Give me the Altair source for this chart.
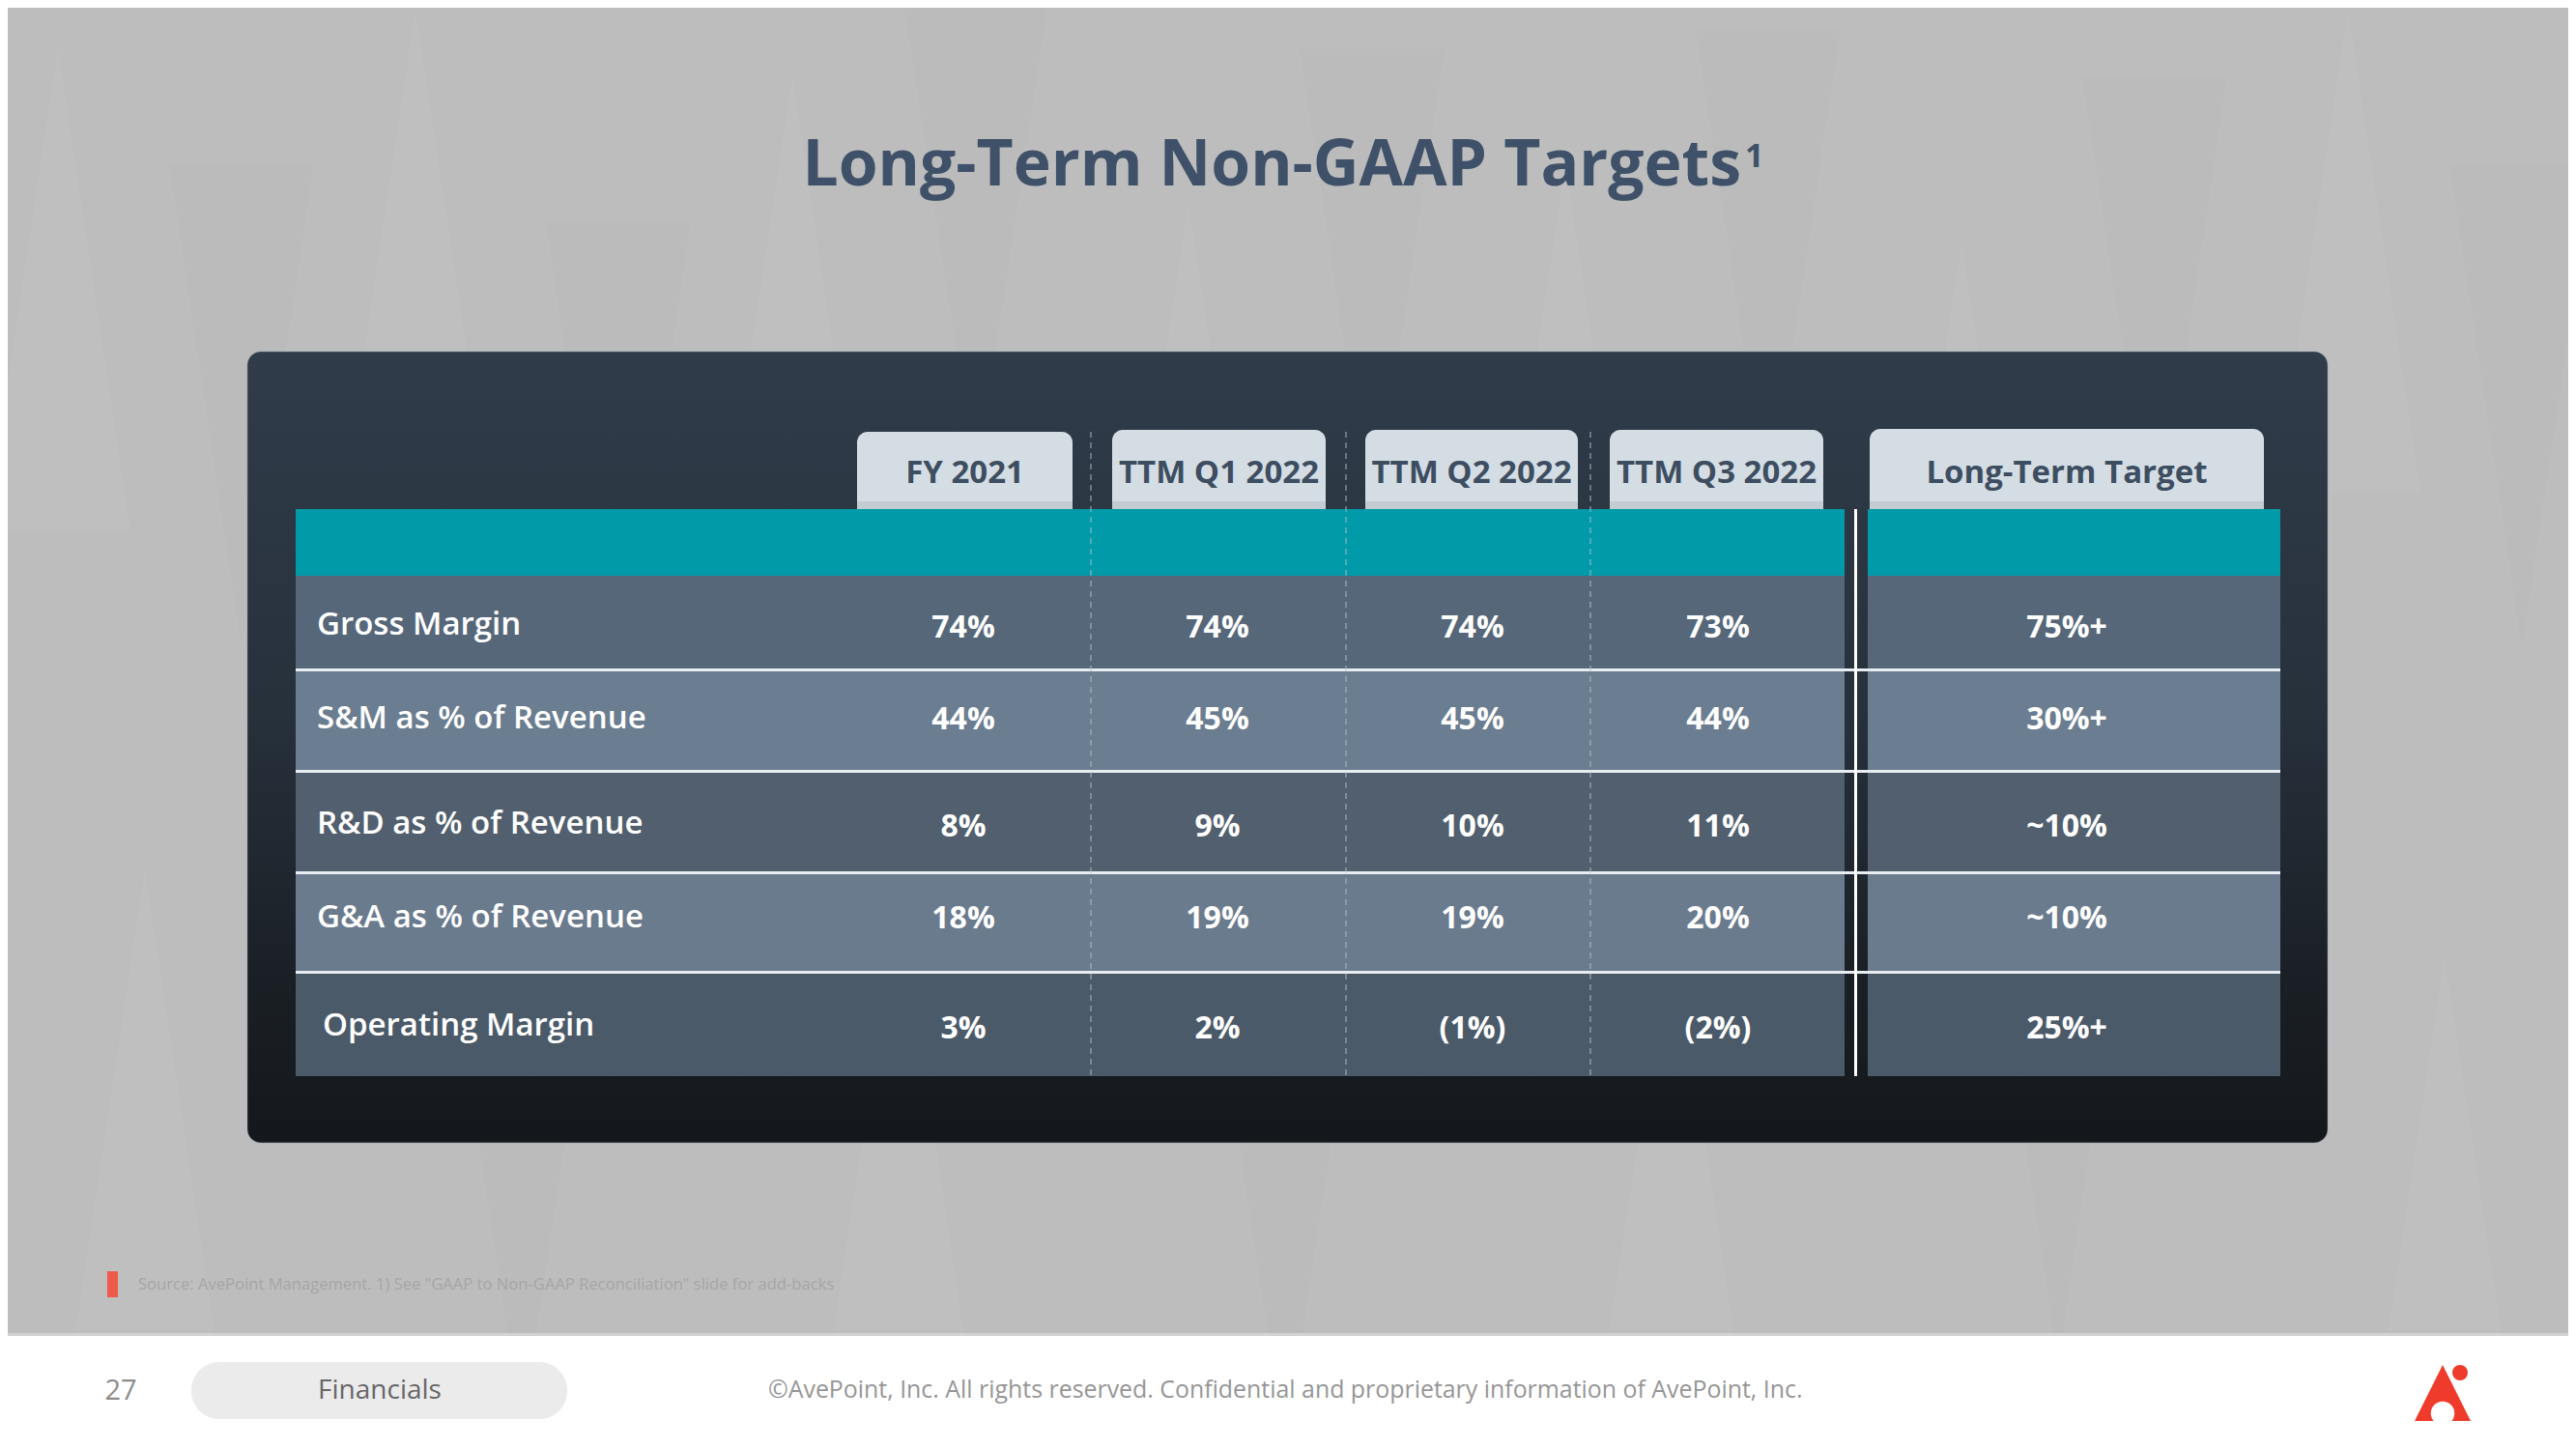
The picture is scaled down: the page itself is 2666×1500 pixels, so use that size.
import altair as alt
import pandas as pd

# ---------------- data ----------------
row_labels = ["Gross Margin", "S&M as % of Revenue", "R&D as % of Revenue",
              "G&A as % of Revenue", "Operating Margin"]
columns = ["FY 2021", "TTM Q1 2022", "TTM Q2 2022", "TTM Q3 2022", "Long-Term Target"]
fy2021 = ["74%", "44%", "8%", "18%", "3%"]
ttm_q1 = ["74%", "45%", "9%", "19%", "2%"]
ttm_q2 = ["74%", "45%", "10%", "19%", "(1%)"]
ttm_q3 = ["73%", "44%", "11%", "20%", "(2%)"]
long_term = ["75%+", "30%+", "~10%", "~10%", "25%+"]

title_text = "Long-Term Non-GAAP Targets"
footnote = 'Source: AvePoint Management. 1) See "GAAP to Non-GAAP Reconciliation" slide for add-backs'
page_no = "27"
section = "Financials"
copyright_text = "©AvePoint, Inc. All rights reserved. Confidential and proprietary information of AvePoint, Inc."

# ---------------- layout (pixel space of the slide) ----------------
FONT = "Open Sans"
XS = alt.Scale(domain=[8, 2658], nice=False, zero=False)
YS = alt.Scale(domain=[8, 1492], nice=False, zero=False, reverse=True)


def X(f):
    return alt.X(f, type="quantitative", scale=XS, axis=None)


def X2(f):
    return alt.X2(f)


def Y(f):
    return alt.Y(f, type="quantitative", scale=YS, axis=None)


def Y2(f):
    return alt.Y2(f)


def rects(df, **kw):
    return alt.Chart(df).mark_rect(**kw).encode(
        x=X("x"), x2=X2("x2"), y=Y("y"), y2=Y2("y2"),
        color=alt.Color("c:N", scale=None))


def texts(df, **kw):
    return alt.Chart(df).mark_text(font=FONT, **kw).encode(
        x=X("x"), y=Y("y"), text="t:N")


layers = []

# background
bg = pd.DataFrame({"x": [8], "x2": [2658], "y": [8], "y2": [1380], "c": ["#bdbdbd"]})
layers.append(rects(bg))

# very subtle triangle pattern in the background
tri_x = [60, 250, 430, 640, 820, 1010, 1230, 1420, 1620, 1830, 2030, 2230, 2430, 2610,
         150, 540, 930, 1330, 1730, 2130, 2530]
tri_y = [300, 420, 260, 480, 330, 250, 460, 300, 420, 280, 500, 330, 260, 420,
         1150, 1230, 1180, 1250, 1200, 1160, 1240]
tri_c = ["#c0c0c0", "#bababa"] * 10 + ["#c0c0c0"]
tri_s = ["M0,-1L0.3,1L-0.3,1Z", "M-0.3,-1L0.3,-1L0,1Z"] * 10 + ["M0,-1L0.3,1L-0.3,1Z"]
tri = pd.DataFrame({"x": tri_x, "y": tri_y, "c": tri_c, "s": tri_s})
layers.append(alt.Chart(tri).mark_point(filled=True, size=250000, opacity=0.7, strokeWidth=0).encode(
    x=X("x"), y=Y("y"), color=alt.Color("c:N", scale=None),
    shape=alt.Shape("s:N", scale=None)))

# footer band
foot = pd.DataFrame({"x": [8, 8], "x2": [2658, 2658], "y": [1380, 1383], "y2": [1383, 1492],
                     "c": ["#d2d2d2", "#ffffff"]})
layers.append(rects(foot))

# dark panel with gradient
panel = pd.DataFrame({"x": [256], "x2": [2409], "y": [364], "y2": [1183]})
grad = alt.LinearGradient(
    gradient="linear",
    stops=[alt.GradientStop(color="#303c4a", offset=0),
           alt.GradientStop(color="#27313c", offset=0.45),
           alt.GradientStop(color="#1a1f25", offset=0.8),
           alt.GradientStop(color="#14181c", offset=1)],
    x1=0, x2=0, y1=0, y2=1)
layers.append(alt.Chart(panel).mark_rect(cornerRadius=14, color=grad, stroke="#8e9aa5",
                                         strokeWidth=0.8, strokeOpacity=0.6).encode(
    x=X("x"), x2=X2("x2"), y=Y("y"), y2=Y2("y2")))

# header tabs
tab_x = [(887, 1110), (1151, 1372), (1413, 1633), (1666, 1887), (1935, 2343)]
tab_top = [447, 445, 445, 445, 444]
tabs = pd.DataFrame({"x": [a for a, b in tab_x], "x2": [b for a, b in tab_x],
                     "y": tab_top, "y2": [540] * 5, "c": ["#d5dde4"] * 5})
layers.append(rects(tabs, cornerRadiusTopLeft=11, cornerRadiusTopRight=11))
tab_shadow = pd.DataFrame({"x": [a for a, b in tab_x], "x2": [b for a, b in tab_x],
                           "y": [519] * 5, "y2": [527] * 5, "c": ["#c3ccd3"] * 5})
layers.append(rects(tab_shadow))

# teal header band
teal = pd.DataFrame({"x": [306, 1933], "x2": [1909, 2360], "y": [527, 527], "y2": [596, 596],
                     "c": ["#009aa8", "#009aa8"]})
layers.append(rects(teal))

# table rows
row_top = [596, 695, 800, 905, 1008]
row_bot = [692, 797, 902, 1005, 1114]
row_col = ["#56677a", "#6b7d90", "#515f6e", "#6a7b8e", "#4b5a69"]
rows = pd.DataFrame({
    "x": [306] * 5 + [1933] * 5, "x2": [1909] * 5 + [2360] * 5,
    "y": row_top * 2, "y2": row_bot * 2, "c": row_col * 2})
layers.append(rects(rows))

# white separators
sep = pd.DataFrame({"x": [306] * 4, "x2": [2360] * 4, "y": [692, 797, 902, 1005],
                    "y2": [695, 800, 905, 1008], "c": ["#e8edf1"] * 4})
layers.append(rects(sep))
vsep = pd.DataFrame({"x": [1919], "x2": [1922], "y": [527], "y2": [1114], "c": ["#ffffff"]})
layers.append(rects(vsep))

# dashed column dividers
dash = pd.DataFrame({"x": [1129, 1393, 1646], "y": [447] * 3, "y2": [1114] * 3})
layers.append(alt.Chart(dash).mark_rule(color="#b7c3ce", strokeWidth=1.2, opacity=0.75,
                                        strokeDash=[6, 5]).encode(
    x=X("x"), y=Y("y"), y2=Y2("y2")))

# header labels
tab_cx = [(a + b) / 2 for a, b in tab_x]
hdr = pd.DataFrame({"x": tab_cx, "y": [490] * 5, "t": columns})
layers.append(texts(hdr, fontSize=33, fontWeight="bold", color="#3d4e61",
                    align="center", baseline="middle"))

# row labels
label_y = [647, 744, 853, 950, 1062]
label_x = [328, 328, 328, 328, 334]
lab = pd.DataFrame({"x": label_x, "y": label_y, "t": row_labels})
layers.append(texts(lab, fontSize=33, fontWeight=600, color="#ffffff",
                    align="left", baseline="middle"))

# values
value_y = [650, 745, 856, 951, 1065]
col_x = [997, 1260, 1524, 1778, 2139]
vals = []
for cx, series in zip(col_x, [fy2021, ttm_q1, ttm_q2, ttm_q3, long_term]):
    for vy, v in zip(value_y, series):
        vals.append({"x": cx, "y": vy, "t": v})
layers.append(texts(pd.DataFrame(vals), fontSize=32, fontWeight="bold", color="#ffffff",
                    align="center", baseline="middle"))

# title
layers.append(texts(pd.DataFrame({"x": [1802], "y": [192], "t": [title_text]}),
                    fontSize=66, fontWeight="bold", color="#3f5169",
                    align="right", baseline="alphabetic"))
layers.append(texts(pd.DataFrame({"x": [1806], "y": [173], "t": ["1"]}),
                    fontSize=34, fontWeight="bold", color="#3f5169",
                    align="left", baseline="alphabetic"))

# footnote
layers.append(rects(pd.DataFrame({"x": [111], "x2": [122], "y": [1316], "y2": [1343],
                                  "c": ["#ee5b4b"]})))
layers.append(texts(pd.DataFrame({"x": [143], "y": [1330], "t": [footnote]}),
                    fontSize=16.6, color="#a6a6a6", align="left", baseline="middle"))

# footer
layers.append(rects(pd.DataFrame({"x": [198], "x2": [587], "y": [1410], "y2": [1469],
                                  "c": ["#ebebeb"]}), cornerRadius=29))
layers.append(texts(pd.DataFrame({"x": [125], "y": [1440], "t": [page_no]}),
                    fontSize=29, color="#8c8c8c", align="center", baseline="middle"))
layers.append(texts(pd.DataFrame({"x": [393], "y": [1440], "t": [section]}),
                    fontSize=28, color="#676767", align="center", baseline="middle"))
layers.append(texts(pd.DataFrame({"x": [795], "y": [1440], "t": [copyright_text]}),
                    fontSize=24.9, color="#969696", align="left", baseline="middle"))

# logo
logo_tri = pd.DataFrame({"x": [2528], "y": [1442], "s": ["M0,-1L1,1L-1,1Z"], "c": ["#ee3b2b"]})
layers.append(alt.Chart(logo_tri).mark_point(filled=True, size=3364, opacity=1, strokeWidth=0).encode(
    x=X("x"), y=Y("y"), shape=alt.Shape("s:N", scale=None), color=alt.Color("c:N", scale=None)))
logo_dots = pd.DataFrame({"x": [2528, 2546], "y": [1463, 1421], "c": ["#ffffff", "#ee3b2b"],
                          "sz": [600, 256]})
layers.append(alt.Chart(logo_dots).mark_circle(opacity=1).encode(
    x=X("x"), y=Y("y"), color=alt.Color("c:N", scale=None),
    size=alt.Size("sz:Q", scale=None)))
layers.append(rects(pd.DataFrame({"x": [2495], "x2": [2565], "y": [1472], "y2": [1485],
                                  "c": ["#ffffff"]})))

chart = alt.layer(*layers).properties(
    width=2650, height=1484, padding=0, autosize=alt.AutoSizeParams(type="none"),
    background="#ffffff"
).configure_view(stroke=None)

chart.save("out.html", embed_options={"renderer": "svg", "actions": False})
